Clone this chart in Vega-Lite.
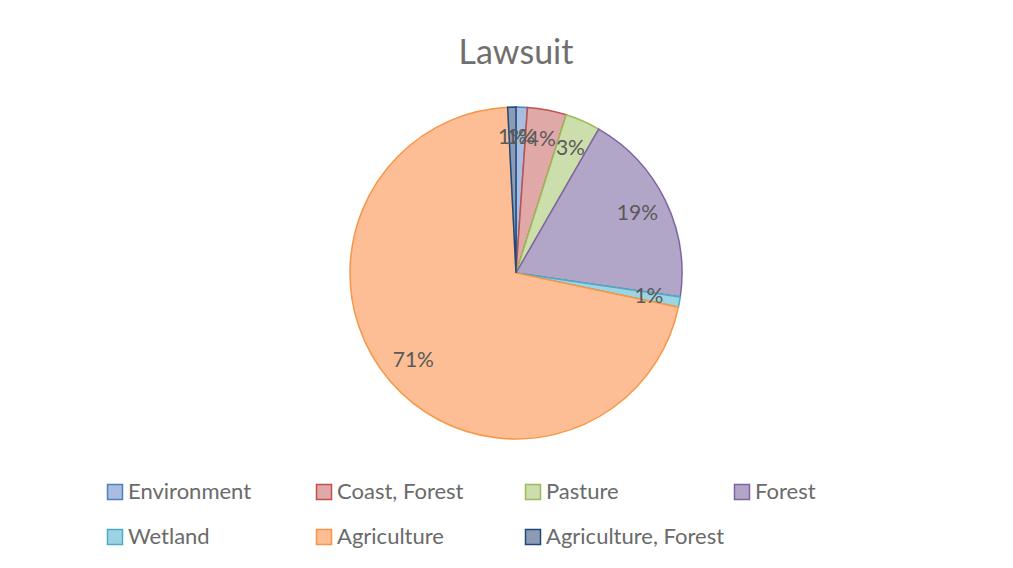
{
  "$schema": "https://vega.github.io/schema/vega-lite/v6.json",
  "width": 994,
  "height": 528,
  "autosize": {"type": "none"},
  "padding": {"left": 19, "top": 9, "right": 0, "bottom": 31},
  "background": "white",
  "config": {"view": {"stroke": null}, "font": "Lato"},
  "title": {"text": "Lawsuit", "fontSize": 34, "fontWeight": "normal", "color": "#6f6f6f", "font": "Lato", "anchor": "middle", "offset": -89, "baseline": "alphabetic"},
  "data": {"values": [
    {"category": "Environment", "share": 0.011, "order": 1},
    {"category": "Coast, Forest", "share": 0.038, "order": 2},
    {"category": "Pasture", "share": 0.034, "order": 3},
    {"category": "Forest", "share": 0.190, "order": 4},
    {"category": "Wetland", "share": 0.010, "order": 5},
    {"category": "Agriculture", "share": 0.709, "order": 6},
    {"category": "Agriculture, Forest", "share": 0.008, "order": 7}
  ]},
  "encoding": {
    "theta": {"field": "share", "type": "quantitative", "stack": true},
    "order": {"field": "order", "type": "quantitative"}
  },
  "layer": [
    {
      "mark": {"type": "arc", "radius": 166, "strokeWidth": 1.5},
      "encoding": {
        "fill": {"field": "category", "type": "nominal",
          "scale": {"domain": ["Environment", "Coast, Forest", "Pasture", "Forest", "Wetland", "Agriculture", "Agriculture, Forest"],
                    "range": ["#a8bde0", "#e0a9a8", "#cbdeac", "#b1a5c8", "#9ed3e2", "#fdbe96", "#8d9cb4"]},
          "legend": {"title": null, "orient": "none", "legendX": 85, "legendY": 472, "direction": "horizontal", "columns": 4,
            "symbolType": "square", "symbolSize": 225, "symbolStrokeWidth": 1.5, "symbolOpacity": 1,
            "labelFontSize": 22, "labelColor": "#6a6a6a", "labelFont": "Lato", "labelOffset": 2, "labelLimit": 300,
            "gridAlign": "all", "columnPadding": 6, "rowPadding": 23}},
        "stroke": {"field": "category", "type": "nominal",
          "scale": {"domain": ["Environment", "Coast, Forest", "Pasture", "Forest", "Wetland", "Agriculture", "Agriculture, Forest"],
                    "range": ["#4f81bd", "#c0504d", "#9bbb59", "#8064a2", "#4bacc6", "#f79646", "#1f497d"]}}
      }
    },
    {
      "mark": {"type": "text", "radius": 135, "fontSize": 21, "color": "#595959", "font": "Lato"},
      "encoding": {
        "text": {"field": "share", "type": "quantitative", "format": ".0%"}
      }
    }
  ]
}
